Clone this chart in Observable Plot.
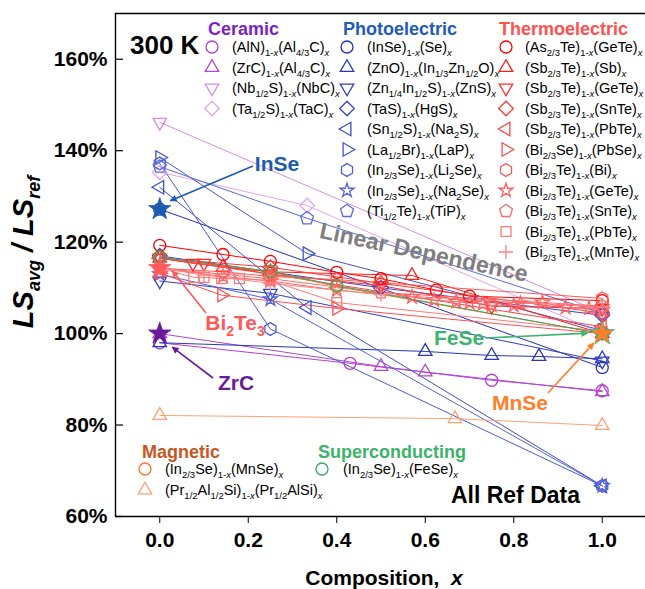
<!DOCTYPE html>
<html><head><meta charset="utf-8">
<script src="https://cdn.jsdelivr.net/npm/d3@7"></script>
<script src="https://cdn.jsdelivr.net/npm/@observablehq/plot@0.6"></script>
<style>body{margin:0;background:#fff} svg{font-family:"Liberation Sans",Arial,sans-serif}</style>
</head><body><div id="chart"></div>
<script>
// ---------------- DATA ----------------
const xTicks = [0, 0.2, 0.4, 0.6, 0.8, 1.0];
const yTicks = [60, 80, 100, 120, 140, 160];

const ceramicNames = ["(AlN)_{1-x}(Al_{4/3}C)_{x}", "(ZrC)_{1-x}(Al_{4/3}C)_{x}", "(Nb_{1/2}S)_{1-x}(NbC)_{x}", "(Ta_{1/2}S)_{1-x}(TaC)_{x}"];
const ceramicData = [
  [[0,98],[0.43,93.5],[0.75,89.8],[1,87.5]],
  [[0,100],[0.5,92.8],[0.6,91.6],[1,87.3]],
  [[0,146.2],[1,104.5]],
  [[0,135.3],[0.333,128],[1,100]]
];
const photoNames = ["(InSe)_{1-x}(Se)_{x}", "(ZnO)_{1-x}(In_{1/3}Zn_{1/2}O)_{x}", "(Zn_{1/4}In_{1/2}S)_{1-x}(ZnS)_{x}", "(TaS)_{1-x}(HgS)_{x}", "(Sn_{1/2}S)_{1-x}(Na_{2}S)_{x}", "(La_{1/2}Br)_{1-x}(LaP)_{x}", "(In_{2/3}Se)_{1-x}(Li_{2}Se)_{x}", "(In_{2/3}Se)_{1-x}(Na_{2}Se)_{x}", "(Ti_{1/2}Te)_{1-x}(TiP)_{x}"];
const photoData = [
  [[0,127.2],[1,92.6]],
  [[0,98],[0.6,96.1],[0.75,95.2],[0.857,95],[1,94.5]],
  [[0,111.5],[0.25,108.8],[1,94]],
  [[0,117],[0.5,110],[1,104]],
  [[0,132],[0.333,105.7],[1,66.7]],
  [[0,138.5],[0.333,117.5],[1,100.7]],
  [[0,137.2],[0.25,101],[1,66.7]],
  [[0,113],[0.25,107.5],[1,66.7]],
  [[0,136.5],[0.333,125.2],[1,104.4]]
];
const thermoNames = ["(As_{2/3}Te)_{1-x}(GeTe)_{x}", "(Sb_{2/3}Te)_{1-x}(Sb)_{x}", "(Sb_{2/3}Te)_{1-x}(GeTe)_{x}", "(Sb_{2/3}Te)_{1-x}(SnTe)_{x}", "(Sb_{2/3}Te)_{1-x}(PbTe)_{x}", "(Bi_{2/3}Se)_{1-x}(PbSe)_{x}", "(Bi_{2/3}Te)_{1-x}(Bi)_{x}", "(Bi_{2/3}Te)_{1-x}(GeTe)_{x}", "(Bi_{2/3}Te)_{1-x}(SnTe)_{x}", "(Bi_{2/3}Te)_{1-x}(PbTe)_{x}", "(Bi_{2/3}Te)_{1-x}(MnTe)_{x}"];
const thermoData = [
  [[0,119.3],[0.143,117.3],[0.25,115.8],[0.4,113.4],[0.5,112],[0.625,109.5],[0.7,108.2],[1,107.2]],
  [[0,116.5],[0.143,114.5],[0.25,113.5],[0.57,112.7],[1,100]],
  [[0,116.5],[0.075,115.4],[0.1,115.4],[0.25,113],[0.5,110.5],[0.75,106],[1,105.5]],
  [[0,116.5],[0.25,114.5],[0.5,111],[1,104.5]],
  [[0,116.5],[0.25,113],[1,101.5]],
  [[0,113.2],[0.14,108.4],[0.4,105.5],[1,100]],
  [[0,114.3],[0.143,113.5],[0.25,112.5],[0.4,111.8],[1,107.7]],
  [[0,114.3],[0.143,112.5],[0.25,111.5],[0.4,109.5],[0.57,108],[0.62,107.3],[0.67,107],[0.7,106.7],[0.73,106.5],[0.75,106.2],[0.8,106.2],[0.815,106.6],[0.865,106.8],[0.917,105.7],[0.97,105.5],[1,105.2]],
  [[0,114.3],[0.25,112],[0.5,109],[1,106]],
  [[0,114.3],[0.077,112.3],[0.1,112.3],[0.14,112],[0.18,112],[0.25,111.6],[0.4,106.8],[1,100.5]],
  [[0,114.3],[0.1,112.8],[0.25,111],[0.5,108.5],[1,105.8]]
];
const magneticNames = ["(In_{2/3}Se)_{1-x}(MnSe)_{x}", "(Pr_{1/2}Al_{1/2}Si)_{1-x}(Pr_{1/2}AlSi)_{x}"];
const magneticData = [
  [[0,116.7],[0.25,113.5],[0.4,110.3],[1,100]],
  [[0,82.1],[0.667,81.4],[1,79.9]]
];
const superNames = ["(In_{2/3}Se)_{1-x}(FeSe)_{x}"];
const superData = [
  [[0,116.7],[0.25,113.6],[0.4,110.5],[1,100]]
];
const refNames = ["InSe", "Bi2Te3", "ZrC", "FeSe", "MnSe"];
const refX = [0, 0, 0, 1, 1];
const refY = [127.2, 114.3, 100, 100, 100];

// ---------------- STYLES ----------------
const sqrt3 = Math.sqrt(3);
const triUp = d3.symbolTriangle;
const triDown = {draw(c,s){const y=-Math.sqrt(s/(sqrt3*3)); c.moveTo(0,-2*y); c.lineTo(-sqrt3*y,y); c.lineTo(sqrt3*y,y); c.closePath();}};
const triLeft = {draw(c,s){const y=-Math.sqrt(s/(sqrt3*3)); c.moveTo(2*y,0); c.lineTo(-y,-sqrt3*y); c.lineTo(-y,sqrt3*y); c.closePath();}};
const triRight = {draw(c,s){const y=-Math.sqrt(s/(sqrt3*3)); c.moveTo(-2*y,0); c.lineTo(y,-sqrt3*y); c.lineTo(y,sqrt3*y); c.closePath();}};
const pentagon = {draw(c,s){const R=Math.sqrt(s/(2.5*Math.sin(2*Math.PI/5))); for(let k=0;k<5;k++){const a=-Math.PI/2+k*2*Math.PI/5; const px=R*Math.cos(a), py=R*Math.sin(a); k?c.lineTo(px,py):c.moveTo(px,py);} c.closePath();}};
const hexagon = {draw(c,s){const R=Math.sqrt(s/(1.5*sqrt3)); for(let k=0;k<6;k++){const a=-Math.PI/2+k*Math.PI/3; const px=R*Math.cos(a), py=R*Math.sin(a); k?c.lineTo(px,py):c.moveTo(px,py);} c.closePath();}};
const SYM = {
  circle:[d3.symbolCircle,6], up:[triUp,5], down:[triDown,5], left:[triLeft,5], right:[triRight,5],
  diamond:[d3.symbolDiamond2,6.6], square:[d3.symbolSquare,5.6], star:[d3.symbolStar,4.4],
  hexagon:[hexagon,5.8], pentagon:[pentagon,5.9], plus:[d3.symbolPlus,4.6]
};
const ceramicSym = ["circle","up","down","diamond"];
const ceramicCol = ["#b23fd3","#b048d0","#d68ce6","#e2a6ee"];
const photoSym = ["circle","up","down","diamond","left","right","hexagon","star","pentagon"];
const photoCol = ["#2330b5","#2838bd","#3040c4","#3646c8","#3d4dcc","#4454d0","#4b5bd4","#5363d8","#5a6adb"];
const thermoSym = ["circle","up","down","diamond","left","right","hexagon","star","pentagon","square","plus"];
const thermoCol = ["#ff0000","#ff1c1c","#ff2c2c","#ff3838","#ff4444","#ff5050","#ff5a5a","#ff6060","#ff6a6a","#ff7878","#ff8484"];
const magSym = ["circle","up"]; const magCol = ["#ff7426","#ffa272"];
const supSym = ["circle"]; const supCol = ["#35a862"];
const refCol = ["#1a5cb0","#ff5a5a","#6a1b9a","#3cb371","#ff7f2a"];
const refR = [7, 7, 7, 7.6, 6.4];

// ---------------- PLOT ----------------
const groups = [
  [ceramicData, ceramicSym, ceramicCol],
  [photoData, photoSym, photoCol],
  [thermoData, thermoSym, thermoCol],
  [magneticData, magSym, magCol],
  [superData, supSym, supCol]
];
const lineMarks = [], dotMarks = [];
for (const [data, syms, cols] of groups) {
  data.forEach((pts, i) => {
    lineMarks.push(Plot.line(pts, {x: d => d[0], y: d => d[1], stroke: cols[i], strokeWidth: 1}));
    const [sym, r] = SYM[syms[i]];
    dotMarks.push(Plot.dot(pts, {x: d => d[0], y: d => d[1], symbol: sym, r, stroke: cols[i], strokeWidth: 1.3, fill: "none"}));
  });
}
const refs = refNames.map((n, i) => ({n, x: refX[i], y: refY[i], c: refCol[i], r: refR[i]}));
const refMarks = refs.map(d => Plot.dot([d], {x: "x", y: "y", symbol: "star", r: d.r, fill: d.c, stroke: d.n === "FeSe" ? "#3cb371" : d.c, strokeWidth: 0.8}));

const plot = Plot.plot({
  width: 645, height: 589,
  marginLeft: 115, marginTop: 13, marginBottom: 73, marginRight: 0,
  style: {fontFamily: "Liberation Sans, Arial, sans-serif", background: "white", overflow: "visible"},
  x: {domain: [-0.1, 1.1], range: [115, 646]},
  y: {domain: [60, 170], range: [516, 13]},
  marks: [
    ...lineMarks, ...dotMarks, ...refMarks,
    Plot.ruleY([170], {stroke: "#000", strokeWidth: 1.4}),
    Plot.ruleY([60], {stroke: "#000", strokeWidth: 1.4}),
    Plot.ruleX([-0.1], {stroke: "#000", strokeWidth: 1.4}),
    Plot.ruleY(yTicks, {x1: -0.1, x2: -0.1 + 8/442.5, stroke: "#000", strokeWidth: 1.2}),
    Plot.axisX({ticks: xTicks, tickFormat: d => d.toFixed(1), tickSize: 7, tickPadding: 9, fontSize: 21, fontWeight: "bold", label: null, stroke: "#000", fill: "#000"}),
    Plot.axisY({ticks: yTicks, tickFormat: d => d + "%", tickSize: 0, tickPadding: 8, fontSize: 21, fontWeight: "bold", label: null, fill: "#000"})
  ]
});
document.getElementById("chart").appendChild(plot);

// ---------------- OVERLAY (text, legend, annotations) ----------------
const svg = d3.select(plot);
const sx = plot.scale("x"), sy = plot.scale("y");
const ov = svg.append("g").attr("font-family", "Liberation Sans, Arial, sans-serif").attr("text-anchor", "start");

function rich(parent, x, y, s, size, sub, o = {}) {
  const t = parent.append("text").attr("x", x).attr("y", y).attr("font-size", size)
    .attr("fill", o.fill || "#000").attr("font-weight", o.weight || "normal")
    .attr("text-anchor", o.anchor || "start");
  if (o.style) t.attr("font-style", o.style);
  if (o.transform) t.attr("transform", o.transform);
  const re = /_\{([^}]*)\}/g; let last = 0, m, off = 0; const drop = o.drop || Math.round(size * 0.28);
  const put = (txt, isSub) => {
    const target = isSub ? drop : 0; const dy = target - off; off = target;
    if (isSub) {
      txt.split(/(x)/).filter(p => p.length).forEach((p, j) => {
        const ts = t.append("tspan").attr("font-size", sub).text(p);
        if (j === 0) ts.attr("dy", dy);
        if (p === "x") ts.attr("font-style", "italic");
      });
    } else {
      const ts = t.append("tspan").text(txt); if (dy) ts.attr("dy", dy);
    }
  };
  while ((m = re.exec(s))) { if (m.index > last) put(s.slice(last, m.index), false); put(m[1], true); last = re.lastIndex; }
  if (last < s.length) put(s.slice(last), false);
  return t;
}

function legendCol(header, hColor, hx, hy, mx, tx, y0, dy, names, syms, cols) {
  ov.append("text").attr("x", hx).attr("y", hy).attr("font-size", 18).attr("font-weight", "bold").attr("fill", hColor)
    .attr("text-anchor", "start").text(header);
  names.forEach((n, i) => {
    const y = y0 + i * dy;
    const [sym, r] = SYM[syms[i]];
    ov.append("path").attr("d", d3.symbol().type(sym).size(r * r * Math.PI)()).attr("transform", `translate(${mx},${y})`)
      .attr("fill", "none").attr("stroke", cols[i]).attr("stroke-width", 1.3);
    rich(ov, tx, y + 5, n, 14.5, 9.5);
  });
}
legendCol("Ceramic", "#7d1fc4", 208, 35, 212, 232, 47, 20.5, ceramicNames, ceramicSym, ceramicCol);
legendCol("Photoelectric", "#1f5bb8", 343, 35, 347, 367, 47, 20.5, photoNames, photoSym, photoCol);
legendCol("Thermoelectric", "#ff5050", 499, 35, 506, 525, 47, 20.5, thermoNames, thermoSym, thermoCol);
legendCol("Magnetic", "#c8561e", 142, 458, 145, 165, 469, 21, magneticNames, magSym, magCol);
legendCol("Superconducting", "#3db36a", 318, 458, 322, 343, 469, 21, superNames, supSym, supCol);

// big labels
ov.append("text").attr("x", 130).attr("y", 54).attr("font-size", 26).attr("font-weight", "bold").attr("text-anchor", "start").text("300 K");
ov.append("text").attr("x", 580).attr("y", 503).attr("font-size", 23).attr("font-weight", "bold").attr("text-anchor", "end").text("All Ref Data");
ov.append("text").attr("x", 424).attr("y", 260).attr("font-size", 23).attr("font-weight", "bold").attr("fill", "#7f7f7f")
  .attr("text-anchor", "middle").attr("transform", "rotate(12 424 252)").text("Linear Dependence");

// axis titles
const xt = ov.append("text").attr("x", 384).attr("y", 585).attr("font-size", 21).attr("font-weight", "bold").attr("text-anchor", "middle");
xt.append("tspan").text("Composition,  "); xt.append("tspan").attr("font-style", "italic").text("x");
const yl = ov.append("text").attr("transform", "translate(33,252) rotate(-90)").attr("font-size", 29).attr("font-weight", "bold")
  .attr("font-style", "italic").attr("text-anchor", "middle");
yl.append("tspan").text("LS"); yl.append("tspan").attr("font-size", 18).attr("dy", 7).text("avg");
yl.append("tspan").attr("dy", -7).text(" / LS"); yl.append("tspan").attr("font-size", 18).attr("dy", 7).text("ref");

// annotations with arrows
const defs = svg.append("defs");
refCol.forEach((c, i) => {
  defs.append("marker").attr("id", "ah" + i).attr("viewBox", "0 0 10 10").attr("refX", 9).attr("refY", 5)
    .attr("markerWidth", 9).attr("markerHeight", 7).attr("markerUnits", "userSpaceOnUse").attr("orient", "auto")
    .append("path").attr("d", "M0,0L10,5L0,10Z").attr("fill", c);
});
const annCol = ["#1a5cb0", "#ff5a5a", "#6a1b9a", "#3cb371", "#ff7f2a"];
const ann = [
  {t: "InSe", tx: 277, ty: 171, sx0: 253, sy0: 166, ex: 11, ey: -8},
  {t: "Bi_{2}Te_{3}", tx: 235, ty: 330, sx0: 206, sy0: 313, ex: 13, ey: 3},
  {t: "ZrC", tx: 236, ty: 390, sx0: 213, sy0: 378, ex: 13, ey: 14},
  {t: "FeSe", tx: 459, ty: 345, sx0: 486, sy0: 338, ex: -14, ey: 0},
  {t: "MnSe", tx: 520, ty: 410, sx0: 548, sy0: 393, ex: -8, ey: 10}
];
ann.forEach((a, i) => {
  const px = sx.apply(refX[i]) + a.ex, py = sy.apply(refY[i]) + a.ey;
  ov.append("line").attr("x1", a.sx0).attr("y1", a.sy0).attr("x2", px).attr("y2", py)
    .attr("stroke", annCol[i]).attr("stroke-width", 1.6).attr("marker-end", `url(#ah${i})`);
  rich(ov, a.tx, a.ty, a.t, 21, 14, {fill: annCol[i], weight: "bold", anchor: "middle", drop: 6});
});
</script></body></html>
